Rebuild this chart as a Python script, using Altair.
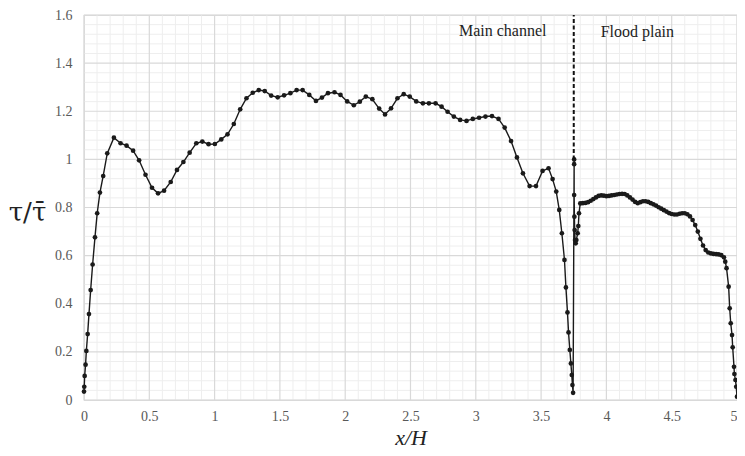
import altair as alt
import pandas as pd

# main channel profile (x/H, tau/tau_mean)
main_x = [0.000, 0.002, 0.005, 0.012, 0.018, 0.028, 0.038, 0.051, 0.066, 0.084,
          0.101, 0.122, 0.147, 0.178, 0.229, 0.280, 0.326, 0.376, 0.422, 0.471,
          0.521, 0.567, 0.613, 0.664, 0.712, 0.761, 0.809, 0.860, 0.906, 0.954,
          1.002, 1.051, 1.099, 1.147, 1.196, 1.244, 1.292, 1.338, 1.384, 1.433,
          1.483, 1.532, 1.580, 1.628, 1.674, 1.725, 1.776, 1.822, 1.868, 1.918,
          1.964, 2.015, 2.066, 2.112, 2.158, 2.208, 2.260, 2.305, 2.351, 2.400,
          2.448, 2.494, 2.544, 2.595, 2.641, 2.692, 2.738, 2.784, 2.832, 2.880,
          2.929, 2.977, 3.025, 3.074, 3.124, 3.174, 3.221, 3.270, 3.315, 3.361,
          3.412, 3.461, 3.511, 3.557, 3.588, 3.616, 3.639, 3.659, 3.679, 3.690,
          3.702, 3.710, 3.720, 3.728, 3.735, 3.740, 3.745]
main_y = [0.035, 0.055, 0.100, 0.147, 0.204, 0.274, 0.357, 0.457, 0.563, 0.676,
          0.776, 0.862, 0.931, 1.025, 1.090, 1.067, 1.057, 1.036, 0.996, 0.936,
          0.882, 0.859, 0.870, 0.906, 0.956, 0.989, 1.028, 1.067, 1.074, 1.063,
          1.064, 1.083, 1.104, 1.147, 1.208, 1.254, 1.277, 1.288, 1.284, 1.265,
          1.258, 1.266, 1.275, 1.288, 1.288, 1.268, 1.243, 1.257, 1.275, 1.279,
          1.268, 1.241, 1.225, 1.240, 1.261, 1.250, 1.211, 1.187, 1.212, 1.254,
          1.271, 1.261, 1.241, 1.233, 1.233, 1.233, 1.219, 1.198, 1.178, 1.164,
          1.160, 1.168, 1.173, 1.178, 1.180, 1.168, 1.132, 1.076, 1.008, 0.942,
          0.889, 0.889, 0.952, 0.963, 0.918, 0.866, 0.790, 0.693, 0.582, 0.468,
          0.364, 0.281, 0.208, 0.152, 0.104, 0.062, 0.030]

# flood plain profile
flood_x = [3.753, 3.753, 3.753, 3.755, 3.757, 3.760, 3.765, 3.770, 3.780, 3.785,
           3.790, 3.800, 3.820, 3.840, 3.860, 3.880, 3.900, 3.920, 3.940, 3.960,
           3.980, 4.000, 4.020, 4.040, 4.060, 4.080, 4.100, 4.120, 4.140, 4.160,
           4.180, 4.200, 4.220, 4.240, 4.260, 4.280, 4.300, 4.320, 4.340, 4.360,
           4.380, 4.400, 4.420, 4.440, 4.460, 4.480, 4.500, 4.520, 4.540, 4.560,
           4.580, 4.600, 4.620, 4.640, 4.660, 4.680, 4.700, 4.720, 4.740, 4.760,
           4.780, 4.800, 4.820, 4.840, 4.860, 4.880, 4.900, 4.910, 4.920, 4.936,
           4.944, 4.952, 4.962, 4.967, 4.977, 4.980, 4.988, 4.994, 5.000]
flood_y = [1.000, 0.980, 0.852, 0.762, 0.706, 0.665, 0.651, 0.665, 0.693, 0.723,
           0.776, 0.817, 0.818, 0.819, 0.822, 0.828, 0.835, 0.842, 0.848, 0.850,
           0.849, 0.847, 0.848, 0.850, 0.852, 0.854, 0.856, 0.857, 0.856, 0.850,
           0.842, 0.833, 0.823, 0.818, 0.822, 0.826, 0.826, 0.823, 0.818, 0.813,
           0.808, 0.801, 0.795, 0.789, 0.783, 0.777, 0.773, 0.771, 0.771, 0.774,
           0.776, 0.776, 0.772, 0.763, 0.748, 0.727, 0.700, 0.670, 0.642, 0.623,
           0.613, 0.609, 0.607, 0.606, 0.605, 0.602, 0.593, 0.575, 0.548, 0.471,
           0.381, 0.319, 0.270, 0.219, 0.138, 0.108, 0.083, 0.055, 0.014]

x_ticks = [0, 0.5, 1, 1.5, 2, 2.5, 3, 3.5, 4, 4.5, 5]
y_ticks = [0, 0.2, 0.4, 0.6, 0.8, 1.0, 1.2, 1.4, 1.6]
x_minor = [round(i * 0.1, 2) for i in range(51) if i % 5 != 0]
y_minor = [round(i * 0.04, 2) for i in range(41) if i % 5 != 0]

divider_x = 3.75
labels = ["Main channel", "Flood plain"]
label_x = [3.206, 4.237]
label_y = [1.534, 1.530]

xs = main_x + flood_x
ys = main_y + flood_y
profile = pd.DataFrame({"x": xs, "y": ys, "i": list(range(len(xs)))})

SERIF = "Liberation Serif"
xscale = alt.Scale(domain=[0, 5], nice=False, zero=False)
yscale = alt.Scale(domain=[0, 1.6], nice=False, zero=False)


def X():
    return alt.X("x:Q", scale=xscale,
                 axis=alt.Axis(values=x_ticks, format=".1~f", grid=False, ticks=False,
                               domain=False, labelFont=SERIF, labelFontSize=14,
                               labelColor="#595959", labelPadding=9, labelFlush=False,
                               labelAlign={"condition": {"test": "datum.value >= 5",
                                                         "value": "right"},
                                           "value": "center"},
                               title="x/H", titleFont=SERIF, titleFontSize=22,
                               titleFontStyle="italic", titleFontWeight="normal",
                               titleColor="#222222", titleBaseline="middle",
                               titleY=37))


def Y():
    return alt.Y("y:Q", scale=yscale,
                 axis=alt.Axis(values=y_ticks, format=".1~f", grid=False, ticks=False,
                               domain=False, labelFont=SERIF, labelFontSize=14,
                               labelColor="#595959", labelPadding=12, labelFlush=False,
                               title="τ/τ\u0304", titleFont="DejaVu Serif", titleFontSize=26,
                               titleFontWeight="normal", titleColor="#222222",
                               titleAngle=0, titleAlign="center",
                               titleBaseline="middle", titleX=-57, titleY=197))


minor_xg = alt.Chart(pd.DataFrame({"x": x_minor})).mark_rule(
    color="#eeeeee", strokeWidth=1).encode(x=X())
minor_yg = alt.Chart(pd.DataFrame({"y": y_minor})).mark_rule(
    color="#eeeeee", strokeWidth=1).encode(y=Y())
major_xg = alt.Chart(pd.DataFrame({"x": x_ticks})).mark_rule(
    color="#d9d9d9", strokeWidth=1.2).encode(x=X())
major_yg = alt.Chart(pd.DataFrame({"y": y_ticks})).mark_rule(
    color="#d9d9d9", strokeWidth=1.2).encode(y=Y())

line = alt.Chart(profile).mark_line(color="#1a1a1a", strokeWidth=1.4).encode(
    x=X(), y=Y(), order="i:Q")
pts = alt.Chart(profile).mark_circle(color="#1a1a1a", opacity=1, size=22).encode(
    x=X(), y=Y())

divider = alt.Chart(pd.DataFrame({"x": [divider_x], "y": [1.0], "y2": [1.6]})).mark_rule(
    color="#111111", strokeWidth=2, strokeDash=[4, 2.5]).encode(
    x=X(), y=Y(), y2="y2:Q")

txt = alt.Chart(pd.DataFrame({"x": label_x, "y": label_y, "t": labels})).mark_text(
    font=SERIF, fontSize=16, color="#222222", baseline="middle", align="center").encode(
    x=X(), y=Y(), text="t:N")

chart = alt.layer(minor_xg, minor_yg, major_xg, major_yg, line, pts, divider, txt).properties(
    width=653, height=385,
    autosize=alt.AutoSizeParams(type="none"),
    padding={"left": 76, "top": 7, "right": 0, "bottom": 48},
    background="white",
).configure_view(stroke="#d9d9d9", strokeWidth=1.2)

chart.save("out.html", embed_options={"renderer": "svg", "actions": False})
